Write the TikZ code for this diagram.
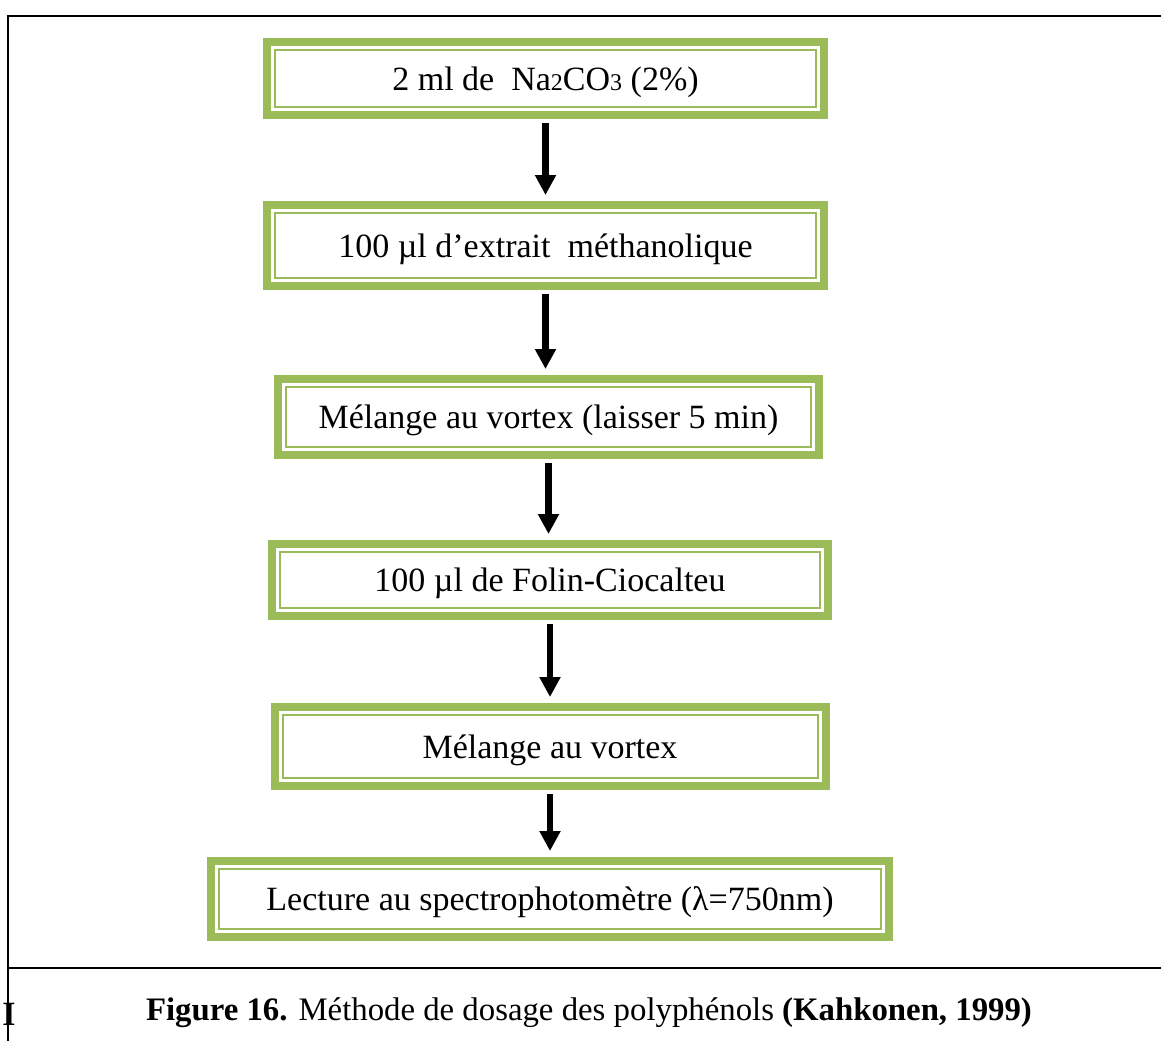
\documentclass[tikz,border=0pt]{standalone}
\usepackage{fontspec}
\setmainfont{Liberation Serif}
\usepackage{tikz}
\usetikzlibrary{positioning,arrows.meta,calc}
\definecolor{olive}{HTML}{9BBB59}
\newcommand{\smdig}[1]{{\fontsize{12}{12}\selectfont #1}}

\begin{document}
\begin{tikzpicture}[
  x=0.5pt,y=-0.5pt,
  stepbox/.style={draw=olive,line width=4pt,align=center,inner sep=0pt,
                  font=\fontsize{17}{20}\selectfont,text depth=0pt,
                  path picture={\draw[olive,line width=1pt]
                    ([shift={(4pt,-4pt)}]path picture bounding box.north west) rectangle
                    ([shift={(-4pt,4pt)}]path picture bounding box.south east);}},
  ar/.style={-{Triangle[length=10pt,width=10pt]},line width=3.2pt,
             shorten <=2pt,shorten >=3pt},
  frame/.style={line width=1pt}
]
\useasboundingbox (0,0) rectangle (1161,1041);

\node[stepbox,minimum width=278.5pt,minimum height=36.5pt] (b1) at (545.5,78.5)
  {2 ml de~\ Na\smdig{2}CO\smdig{3} (2\%)};
\node[stepbox,minimum width=278.5pt,minimum height=40.5pt,below=41pt of b1] (b2)
  {100 µl d’extrait~\ méthanolique};
\node[stepbox,minimum width=270.5pt,minimum height=38pt,below=42.5pt of b2,xshift=1.5pt] (b3)
  {Mélange au vortex (laisser 5 min)};
\node[stepbox,minimum width=278pt,minimum height=36pt,below=40.5pt of b3,xshift=0.75pt] (b4)
  {100 µl de Folin-Ciocalteu};
\node[stepbox,minimum width=275.5pt,minimum height=39.5pt,below=41.5pt of b4] (b5)
  {Mélange au vortex};
\node[stepbox,minimum width=339pt,minimum height=38pt,below=33.5pt of b5] (b6)
  {Lecture au spectrophotomètre (λ=750nm)};

\draw[ar] (b1.south) -- (b1.south |- b2.north);
\draw[ar] (b2.south) -- (b2.south |- b3.north);
\draw[ar] (b3.south) -- (b3.south |- b4.north);
\draw[ar] (b4.south) -- (b4.south |- b5.north);
\draw[ar] (b5.south) -- (b5.south |- b6.north);

\draw[frame] (1161,16) -- (8,16) -- (8,1041);
\draw[frame] (8,968) -- (1161,968);

\node[font=\fontsize{16.4}{20}\selectfont] (cap) at (589,1013)
  {\textbf{Figure 16.} Méthode de dosage des polyphénols \textbf{(Kahkonen, 1999)}};
\node[font=\fontsize{17}{20}\selectfont\bfseries,inner sep=0pt] (mark) at (9,1014) {I};
\end{tikzpicture}
\end{document}
